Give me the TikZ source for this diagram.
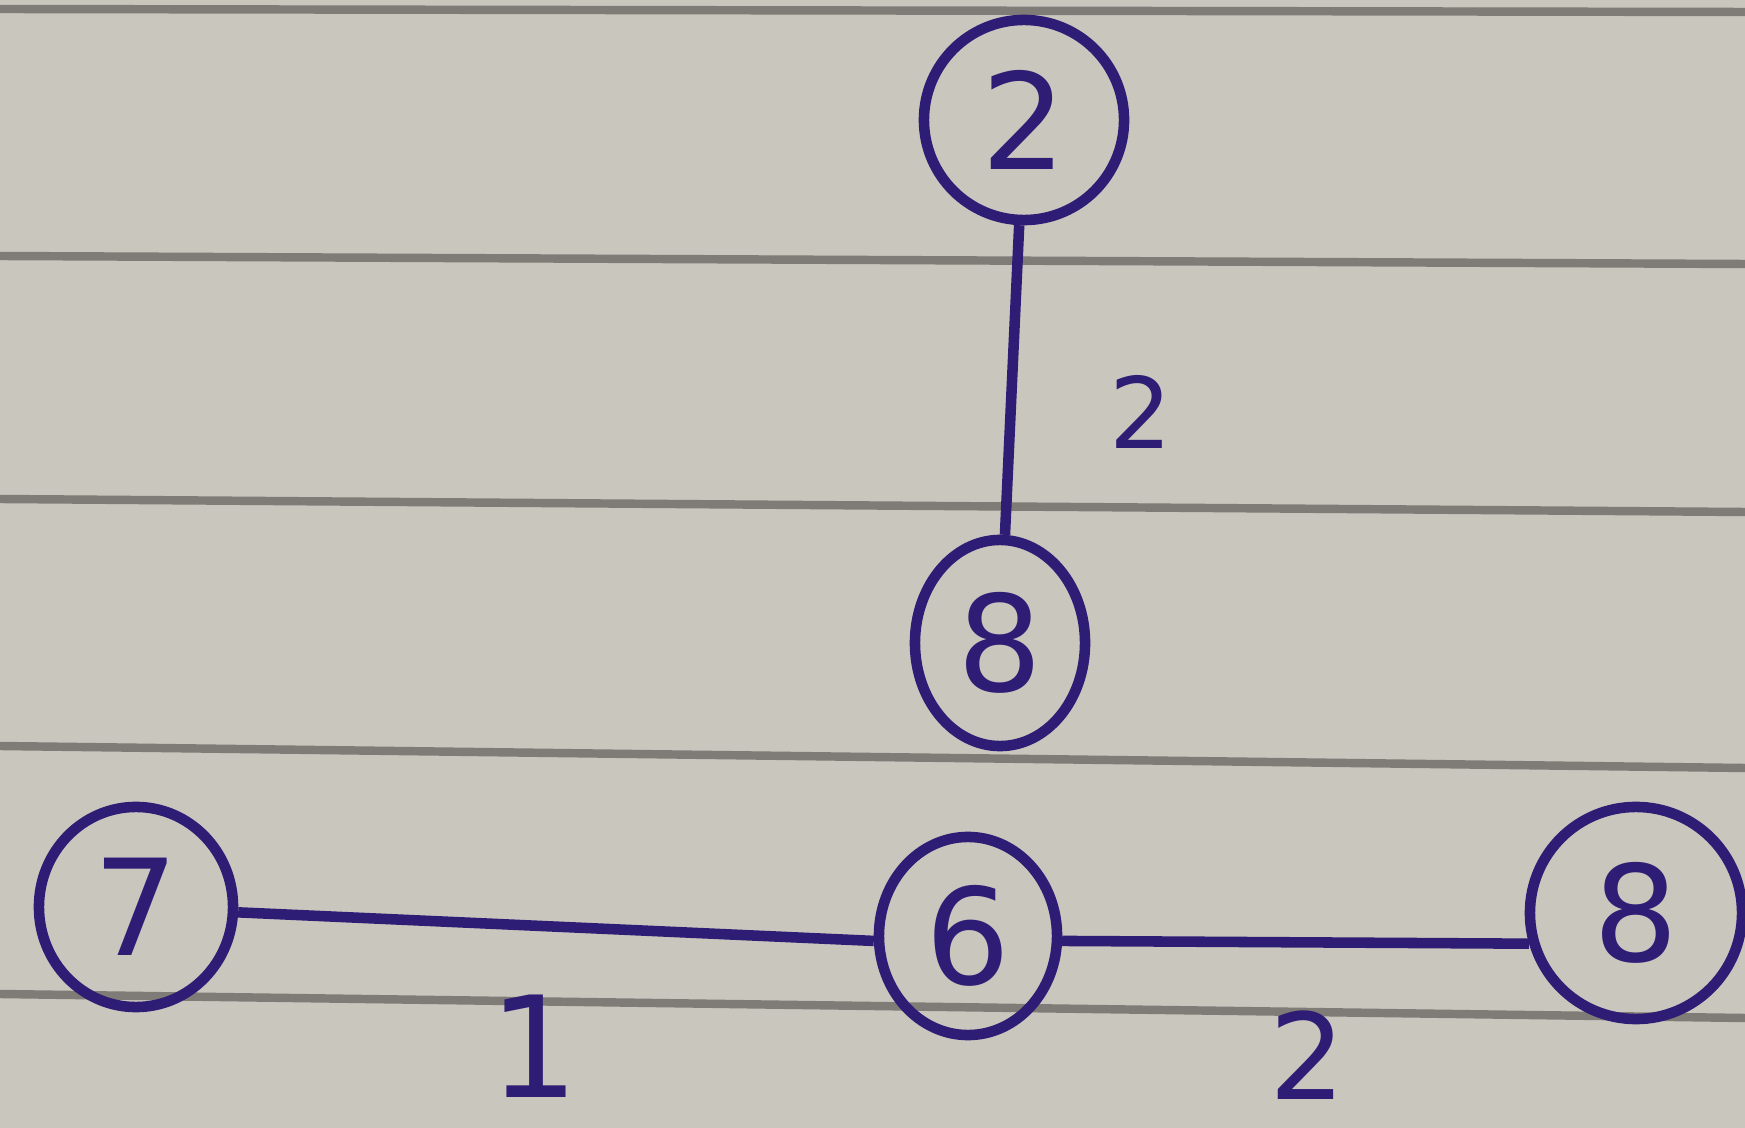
\documentclass[tikz,border=0pt]{standalone}
\usepackage{fontspec}
\setmainfont{DejaVu Sans}
\usetikzlibrary{shapes.geometric}
\definecolor{paper}{HTML}{C9C6BE}
\definecolor{rule}{HTML}{7F7B76}
\definecolor{ink}{HTML}{2D1D75}
\tikzset{
  vert/.style={ellipse, draw=ink, line width=3pt, inner sep=0pt, text=ink,
    font=\fontsize{38}{44}\selectfont},
  edge/.style={draw=ink, line width=3pt},
  wlabel/.style={text=ink, inner sep=0pt},
  ruling/.style={draw=rule, line width=2.4pt}
}
\begin{document}
\begin{tikzpicture}[x=0.01cm,y=-0.01cm]
\fill[paper] (0,0) rectangle (1745,1128);
\useasboundingbox (0,0) rectangle (1745,1128);
% ruled lines
\draw[ruling] (0,9) -- (1745,12);
\draw[ruling] (0,256) -- (1745,264);
\draw[ruling] (0,499) -- (1745,512);
\draw[ruling] (0,746) -- (1745,768);
\draw[ruling] (0,994) -- (1745,1018);
% vertices
\node[vert, minimum width=2.0cm, minimum height=2.0cm] (n2) at (1024,120) {2};
\node[vert, minimum width=1.7cm, minimum height=2.06cm] (n8) at (1000,643) {8};
\node[vert, minimum width=1.94cm, minimum height=2.0cm] (n7) at (136,907) {7};
\node[vert, minimum width=1.78cm, minimum height=1.98cm] (n6) at (968,936) {6};
\node[vert, minimum width=2.12cm, minimum height=2.12cm] (n8b) at (1636,913) {8};
% edges
\draw[edge] (n2) -- (n8);
\draw[edge] (n7.-3) -- (n6.183);
\draw[edge] (n6.-3) -- (n8b.196);
% weights
\node[wlabel, font=\fontsize{28}{32}\selectfont] (w1) at (1141,412) {2};
\node[wlabel, font=\fontsize{40}{46}\selectfont] (w2) at (534,1046) {1};
\node[wlabel, font=\fontsize{34}{40}\selectfont] (w3) at (1308,1055) {2};
\end{tikzpicture}
\end{document}
